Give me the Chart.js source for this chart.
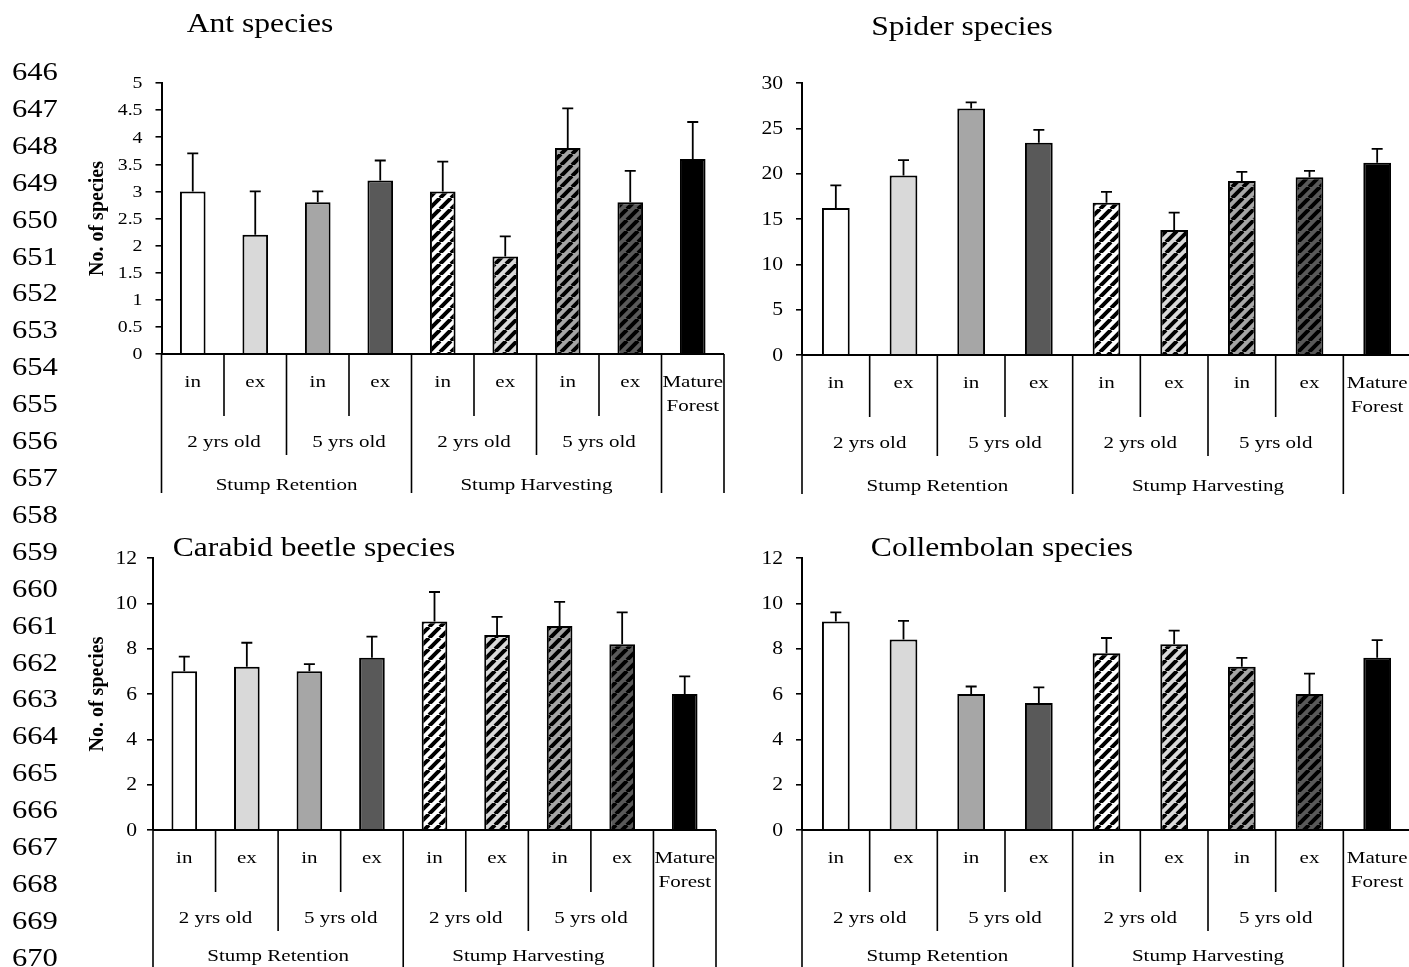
<!DOCTYPE html>
<html>
<head>
<meta charset="utf-8">
<title>Species richness by stump treatment</title>
<script src="https://cdn.jsdelivr.net/npm/chart.js@4/dist/chart.umd.min.js"></script>
<style>
  html, body { margin: 0; padding: 0; background: #fff; overflow: hidden; }
  body { width: 1409px; height: 967px; position: relative; color: #000;
         font-family: 'Liberation Serif', 'Times New Roman', serif; }
  canvas { position: absolute; left: 0; top: 0; }
  .line-numbers { position: absolute; left: 12px; top: 54px; font-size: 25.5px; line-height: 36.9px;
                  transform: scaleX(1.2); transform-origin: left top; }
  .panel-title { position: absolute; font-size: 27px; line-height: 27px; white-space: nowrap;
                 transform: translateX(-50%) scaleX(1.17); }
</style>
</head>
<body>
<canvas id="antChart" width="1420" height="967"></canvas>
<canvas id="spiderChart" width="1420" height="967"></canvas>
<canvas id="carabidChart" width="1420" height="967"></canvas>
<canvas id="collembolanChart" width="1420" height="967"></canvas>

<div class="line-numbers" id="lineNumbers"></div>
<div class="panel-title" style="left:260px; top:10px;">Ant species</div>
<div class="panel-title" style="left:962px; top:13px;">Spider species</div>
<div class="panel-title" style="left:314px; top:534px;">Carabid beetle species</div>
<div class="panel-title" style="left:1002px; top:534px;">Collembolan species</div>

<script>
// --- data -------------------------------------------------------------
const subLabels = ['in', 'ex', 'in', 'ex', 'in', 'ex', 'in', 'ex', ['Mature', 'Forest']];
const ageGroups = [['2 yrs old', 2], ['5 yrs old', 2], ['2 yrs old', 2], ['5 yrs old', 2]];
const treatmentGroups = [['Stump Retention', 4], ['Stump Harvesting', 4]];

const antMeans = [3.0, 2.2, 2.8, 3.2, 3.0, 1.8, 3.8, 2.8, 3.6];
const antErrors = [0.70, 0.80, 0.20, 0.37, 0.55, 0.37, 0.73, 0.58, 0.68];

const spiderMeans = [16.2, 19.8, 27.2, 23.4, 16.8, 13.8, 19.2, 19.6, 21.2];
const spiderErrors = [2.5, 1.7, 0.66, 1.44, 1.2, 1.9, 1.0, 0.7, 1.54];

const carabidMeans = [7.0, 7.2, 7.0, 7.6, 9.2, 8.6, 9.0, 8.2, 6.0];
const carabidErrors = [0.65, 1.06, 0.32, 0.93, 1.3, 0.8, 1.06, 1.4, 0.78];

const collembolanMeans = [9.2, 8.4, 6.0, 5.6, 7.8, 8.2, 7.2, 6.0, 7.6];
const collembolanErrors = [0.4, 0.83, 0.33, 0.69, 0.67, 0.6, 0.39, 0.9, 0.78];

const firstLineNumber = 646;
const lastLineNumber = 670;

// --- styling ----------------------------------------------------------
const SERIF = "'Liberation Serif', 'Times New Roman', serif";
const TEXT_STRETCH = 1.2;      // the figure's text is a bit wide
const CAP_HALF = 5.5;
const LEVEL_DEPTH = { 1: 62, 2: 101, 3: 139 };
const shades = ['#ffffff', '#d9d9d9', '#a6a6a6', '#595959',
                '#ffffff', '#d9d9d9', '#a6a6a6', '#595959', '#000000'];
const hatched = [false, false, false, false, true, true, true, true, false];

// line numbers down the margin
document.getElementById('lineNumbers').innerHTML = Array.from(
    { length: lastLineNumber - firstLineNumber + 1 },
    (_, i) => `<div>${firstLineNumber + i}</div>`
).join('');

// wide upward diagonal hatch over a grey shade
function makeHatch(color) {
    const size = 11;
    const tile = document.createElement('canvas');
    tile.width = size;
    tile.height = size;
    const c = tile.getContext('2d');
    c.fillStyle = color;
    c.fillRect(0, 0, size, size);
    c.strokeStyle = '#000';
    c.lineWidth = 4;
    c.beginPath();
    for (let k = -1; k <= 1; k++) {
        c.moveTo(k * size, size);
        c.lineTo(k * size + size, 0);
    }
    c.stroke();
    return c.createPattern(tile, 'repeat');
}

const barFills = shades.map((col, i) => (hatched[i] ? makeHatch(col) : col));
const categoryKeys = subLabels.map(l => (Array.isArray(l) ? l.join(' ') : l));

function drawStretched(ctx, text, x, y, font, align, baseline) {
    ctx.save();
    ctx.translate(x, y);
    ctx.scale(TEXT_STRETCH, 1);
    ctx.font = font;
    ctx.fillStyle = '#000';
    ctx.textAlign = align;
    ctx.textBaseline = baseline;
    ctx.fillText(text, 0, 0);
    ctx.restore();
}

// error bars, y tick labels and the three-level category axis
const speciesAxisPlugin = {
    id: 'speciesAxis',
    afterDatasetsDraw(chart, args, opts) {
        const { ctx } = chart;
        const yScale = chart.scales.y;
        const means = chart.data.datasets[0].data;
        ctx.save();
        ctx.strokeStyle = '#000';
        ctx.lineWidth = 1.8;
        chart.getDatasetMeta(0).data.forEach((bar, i) => {
            const top = yScale.getPixelForValue(means[i] + opts.errors[i]);
            ctx.beginPath();
            ctx.moveTo(bar.x, bar.y);
            ctx.lineTo(bar.x, top);
            ctx.moveTo(bar.x - CAP_HALF, top);
            ctx.lineTo(bar.x + CAP_HALF, top);
            ctx.stroke();
        });
        ctx.restore();
    },
    afterDraw(chart, args, opts) {
        const { ctx, chartArea: area } = chart;
        const x = chart.scales.x;
        const y = chart.scales.y;

        // y tick labels
        const tickFont = `${opts.tickFont}px ${SERIF}`;
        y.ticks.forEach((t, i) => {
            drawStretched(ctx, String(Number(t.value.toFixed(1))),
                y.right - opts.labelGap, y.getPixelForTick(i) + 1, tickFont, 'right', 'middle');
        });

        // category axis
        const n = chart.data.labels.length;
        const w = (area.right - area.left) / n;
        const edge = b => (b < n ? x.getPixelForValue(b) - w / 2 : x.getPixelForValue(n - 1) + w / 2);
        const base = area.bottom;

        const depth = new Array(n + 1).fill(1);
        depth[0] = 3;
        depth[n] = 3;
        let pos = 0;
        ageGroups.forEach(([, span]) => { pos += span; depth[pos] = Math.max(depth[pos], 2); });
        pos = 0;
        treatmentGroups.forEach(([, span]) => { pos += span; depth[pos] = 3; });

        ctx.save();
        ctx.strokeStyle = '#000';
        ctx.lineWidth = 2;
        ctx.beginPath();
        ctx.moveTo(area.left, base);
        ctx.lineTo(area.right, base);
        ctx.stroke();
        ctx.lineWidth = 1.6;
        ctx.beginPath();
        for (let b = 0; b <= n; b++) {
            ctx.moveTo(edge(b), base);
            ctx.lineTo(edge(b), base + LEVEL_DEPTH[depth[b]]);
        }
        ctx.stroke();
        ctx.restore();

        const labelFont = `17.5px ${SERIF}`;
        subLabels.forEach((lab, i) => {
            const cx = x.getPixelForValue(i);
            const lines = Array.isArray(lab) ? lab : [lab];
            lines.forEach((line, j) => drawStretched(ctx, line, cx, base + 33 + j * 24, labelFont, 'center', 'alphabetic'));
        });
        pos = 0;
        ageGroups.forEach(([lab, span]) => {
            drawStretched(ctx, lab, (edge(pos) + edge(pos + span)) / 2, base + 93, labelFont, 'center', 'alphabetic');
            pos += span;
        });
        pos = 0;
        treatmentGroups.forEach(([lab, span]) => {
            drawStretched(ctx, lab, (edge(pos) + edge(pos + span)) / 2, base + opts.treatmentOffset, labelFont, 'center', 'alphabetic');
            pos += span;
        });
    }
};

function buildChart(canvasId, means, errors, cfg) {
    return new Chart(document.getElementById(canvasId), {
        type: 'bar',
        data: {
            labels: categoryKeys,
            datasets: [{
                data: means,
                backgroundColor: barFills,
                borderColor: '#000',
                borderWidth: 2,
                barPercentage: 0.41,
                categoryPercentage: 1,
            }],
        },
        options: {
            responsive: false,
            animation: false,
            devicePixelRatio: 1,
            layout: { padding: cfg.padding },
            plugins: {
                legend: { display: false },
                tooltip: { enabled: false },
                speciesAxis: {
                    errors,
                    tickFont: cfg.tickFont,
                    labelGap: cfg.labelGap,
                    treatmentOffset: cfg.treatmentOffset,
                },
            },
            scales: {
                x: { display: false },
                y: {
                    min: 0,
                    max: cfg.max,
                    afterFit: scale => { scale.width = cfg.axisWidth; },
                    ticks: { display: false, stepSize: cfg.step },
                    grid: { display: true, drawOnChartArea: false, drawTicks: true, tickLength: 6, color: '#000', lineWidth: 1.6 },
                    border: { display: true, color: '#000', width: 2 },
                    title: {
                        display: cfg.showTitle,
                        text: 'No. of species',
                        color: '#000',
                        padding: 0,
                        font: { family: SERIF, size: 20, weight: 'bold', lineHeight: 1.2 },
                    },
                },
            },
        },
        plugins: [speciesAxisPlugin],
    });
}

buildChart('antChart', antMeans, antErrors, {
    max: 5, step: 0.5, tickFont: 16.5, labelGap: 19, showTitle: true, axisWidth: 75.5, treatmentOffset: 136,
    padding: { left: 86, right: 696, top: 83, bottom: 613 },
});
buildChart('spiderChart', spiderMeans, spiderErrors, {
    max: 30, step: 5, tickFont: 18, labelGap: 19, showTitle: false, axisWidth: 60, treatmentOffset: 136,
    padding: { left: 742, right: 9, top: 83, bottom: 612 },
});
buildChart('carabidChart', carabidMeans, carabidErrors, {
    max: 12, step: 2, tickFont: 18, labelGap: 16, showTitle: true, axisWidth: 67.5, treatmentOffset: 131,
    padding: { left: 85.5, right: 704, top: 558, bottom: 137 },
});
buildChart('collembolanChart', collembolanMeans, collembolanErrors, {
    max: 12, step: 2, tickFont: 18, labelGap: 19, showTitle: false, axisWidth: 60, treatmentOffset: 131,
    padding: { left: 742, right: 9, top: 558, bottom: 137 },
});
</script>
</body>
</html>
